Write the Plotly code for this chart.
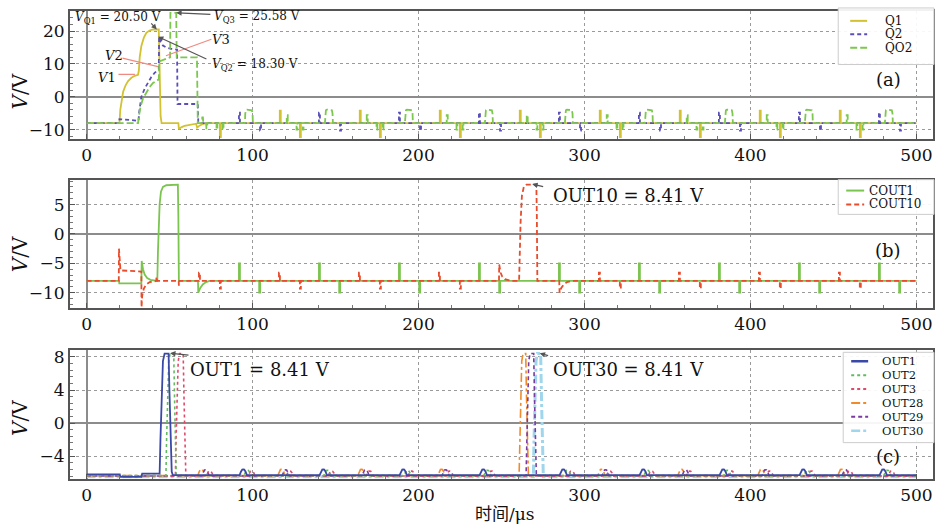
import plotly.graph_objects as go

# ------------------------------------------------------------------
# DATA
# ------------------------------------------------------------------
T_END = 500

# Panel (a): start-up waveforms (time us, voltage V)
Q1_T = [0, 19.8, 20.3, 21.0, 22.0, 23.5, 25.0, 27.0, 29.0, 31.0, 31.5, 32.0, 33.0, 34.5, 36.0, 38.0, 40.0,
        43.5, 44.0, 44.6, 45.2, 55.3, 55.6, 57.0, 59.0, 62.0, 66.0, 66.6, 68.0, 70.0, 72.0]
Q1_V = [-8, -8, -4, -1, 1.5, 3.5, 4.8, 5.8, 6.4, 6.7, 8, 12, 15.5, 18, 19.5, 20.2, 20.5,
        20.5, 10, -6, -8, -8, -9.8, -9.3, -8.9, -8.5, -8.2, -9.4, -8.8, -8.3, -8]
Q2_T = [0, 19.5, 19.8, 25.0, 31.3, 31.6, 32.2, 33.0, 35.0, 37.0, 39.0, 41.0, 43.5, 43.7, 44.5, 46.0,
        48.0, 51.0, 54.5, 54.8, 67.0, 67.3]
Q2_V = [-8, -8, -6.8, -7.0, -7.3, -5, -2, 0, 2.5, 4.5, 6, 7.3, 8.3, 18.3, 16.8, 15.6,
        15.0, 14.6, 14.4, -2.2, -2.2, -8]
QO2_T = [0, 31.0, 31.5, 32.5, 34.0, 36.0, 38.0, 40.0, 43.5, 43.8, 47.0, 50.3, 50.5, 54.0, 54.3, 66.5,
         67.0, 69.5, 69.7, 70.1, 70.3, 72.0, 72.2, 72.6, 72.8]
QO2_V = [-8, -8, -6, -3, -0.5, 1.5, 3, 4.2, 5.3, 10.8, 11.5, 12, 25.58, 25.58, 12, 12,
         -8, -8, -6.3, -6.3, -8, -8, -9.6, -9.6, -8]
A_BASE = -8
Q1_UP_T = [116.4, 164.6, 212.8, 261.0, 309.2, 357.4, 405.6, 453.8]
Q1_UP_V = -4.2
Q1_DN_T = [80.3, 128.5, 176.7, 224.9, 273.1, 321.3, 369.5, 417.7, 465.9]
Q1_DN_V = -12.3
Q2_UP_T = [91.8, 140.0, 188.2, 236.4, 284.6, 332.8, 381.0, 429.2, 477.4]
Q2_UP_V = -4.8
Q2_DN_T = [104.5, 152.7, 200.9, 249.1, 297.3, 345.5, 393.7, 441.9, 490.1]
Q2_DN_V = -10.3
QO2_UP_T = [120.6, 168.8, 217.0, 265.2, 313.4, 361.6, 409.8, 458.0]
QO2_UP_V = -5.6
QO2_DN_T = [78.3, 82.0, 126.5, 130.2, 174.7, 178.4, 222.9, 226.6, 271.1, 274.8,
            319.3, 323.0, 367.5, 371.2, 415.7, 419.4, 463.9, 467.6]
QO2_DN_V = -10.0
QO2_BUMP_T = [95.4, 143.6, 191.8, 240.0, 288.2, 336.4, 384.6, 432.8, 481.0]
QO2_BUMP_W = 4.8
QO2_BUMP_V = -3.9

# Panel (b)
COUT1_T = [0, 19.5, 19.7, 33.0, 33.2, 34.0, 35.0, 36.5, 38.5, 41.0, 42.6, 43.0, 43.5, 44.0, 44.8, 46.0,
           48.0, 55.0, 55.3, 55.6, 67.1, 67.3, 68.5, 70.0, 72.0, 74.0]
COUT1_V = [-8, -8, -8.4, -8.4, -4.6, -6.0, -6.9, -7.5, -7.8, -8, -8, -3, 1.5, 5, 7.2, 8.0,
           8.3, 8.41, 3, -8, -8, -10, -9.2, -8.6, -8.2, -8]
COUT10_T = [0, 19.4, 19.5, 19.8, 20.4, 33.0, 33.1, 33.5, 34.5, 36.0, 38.0, 41.0, 42.0, 42.1, 42.4,
            55.5, 55.6, 55.9,
            248.5, 248.6, 249.5, 250.5, 252.0, 254.0, 256.0, 260.6, 260.9, 261.5, 262.3, 263.5, 265.0,
            271.0, 271.3, 271.6, 284.8, 285.0, 286.0, 287.5, 289.5, 292.0]
COUT10_V = [-8, -8, -2.5, -5, -6.2, -6.4, -12.5, -10.5, -9.3, -8.6, -8.2, -8, -8, -7.3, -8,
            -8, -8.8, -8,
            -8, -5.2, -6.6, -7.3, -7.7, -7.9, -8, -8, -4, 2, 6.5, 8.1, 8.4,
            8.41, 3, -8, -8, -10, -9.2, -8.6, -8.2, -8]
B_BASE = -8
COUT1_UP_T = [91.8, 140.0, 188.2, 236.4, 284.6, 332.8, 381.0, 429.2, 477.4]
COUT1_UP_V = -5.0
COUT1_DN_T = [104.0, 152.2, 200.4, 248.6, 296.8, 345.0, 393.2, 441.4, 489.6]
COUT1_DN_V = -10.0
COUT10_UP_T = [67.7, 115.9, 164.1, 212.3, 308.7, 356.9, 405.1, 453.3]
COUT10_UP_V = -6.6
COUT10_DN_T = [80.3, 128.5, 176.7, 224.9, 321.3, 369.5, 417.7, 465.9]
COUT10_DN_V = -9.3

# Panel (c)
OUT1_T = [0, 20.0, 20.3, 33.0, 33.5, 44.0, 44.5, 45.2, 46.0, 47.0, 49.4, 49.9, 50.6, 51.3, 52.0]
OUT1_V = [-6.2, -6.2, -6.5, -6.5, -6.1, -6.1, -2, 4, 7.5, 8.41, 8.41, 4, -3, -5.9, -6.3]
OUT2_T = [0, 47.8, 48.2, 48.8, 49.5, 50.3, 52.5, 53.0, 53.5, 54.0]
OUT2_V = [-6.35, -6.35, -2, 4, 7.5, 8.41, 8.41, 3, -4, -6.35]
OUT3_T = [0, 53.5, 53.9, 54.5, 55.2, 56.0, 58.2, 58.7, 59.2, 59.8]
OUT3_V = [-6.4, -6.4, -2, 4, 7.5, 8.41, 8.41, 3, -4, -6.4]
OUT28_T = [0, 260.6, 261.0, 261.6, 262.2, 263.0, 264.6, 265.1, 265.6, 266.2]
OUT28_V = [-6.35, -6.35, -2, 4, 7.5, 8.41, 8.41, 3, -4, -6.35]
OUT29_T = [0, 264.8, 265.2, 265.8, 266.4, 267.2, 269.4, 269.9, 270.4, 271.0]
OUT29_V = [-6.4, -6.4, -2, 4, 7.5, 8.41, 8.41, 3, -4, -6.4]
OUT30_T = [0, 269.2, 269.6, 270.2, 270.8, 271.6, 273.6, 274.1, 274.6, 275.2]
OUT30_V = [-6.5, -6.5, -2, 4, 7.5, 8.41, 8.41, 3, -4, -6.5]
HUMP_BLUE_T = [94.4, 142.6, 190.8, 239.0, 287.2, 335.4, 383.6, 431.8, 480.0]      # OUT1, OUT2 +2.5, OUT3 +5
HUMP_ORANGE_T = [69.2, 117.4, 165.6, 213.8, 310.2, 358.4, 406.6, 454.8]          # OUT28, OUT29 +2.5, OUT3 +5
HUMP_PEAK = -5.6

# ------------------------------------------------------------------
# helpers to turn the read values into polylines
# ------------------------------------------------------------------
def spikes(times, peak, base, w=0.6):
    out = []
    for t in times:
        out += [(t, base), (t, peak), (t + w, peak), (t + w, base)]
    return out


def bumps(times, top, base, w):
    out = []
    for t in times:
        out += [(t, base), (t + 0.2, base + 0.7 * (top - base)), (t + 0.6, top - 0.2), (t + 1.2, top),
                (t + w - 1.2, top), (t + w - 0.6, top - 0.2), (t + w - 0.2, base + 0.7 * (top - base)), (t + w, base)]
    return out


def humps(times, peak, base):
    out = []
    for t in times:
        out += [(t - 2.2, base), (t - 1.4, base + 0.6 * (peak - base)), (t - 0.6, peak - 0.02), (t, peak),
                (t + 0.6, peak - 0.02), (t + 1.4, base + 0.6 * (peak - base)), (t + 2.2, base)]
    return out


def build(ts, vs, *extra, base=None):
    pts = list(zip(ts, vs))
    for e in extra:
        pts += e
    pts.sort(key=lambda p: p[0])
    if base is not None and pts[-1][0] < T_END:
        pts.append((T_END, base))
    return [p[0] for p in pts], [p[1] for p in pts]


FONT = "DejaVu Serif"
W, H = 935, 526
ML = 70  # left margin in px


def PX(x):
    return (x - ML) / (W - ML)


def PY(y):
    return 1 - y / H


fig = go.Figure()

# ---------------- panel (a)
x, y = build(Q1_T, Q1_V, spikes(Q1_UP_T, Q1_UP_V, A_BASE), spikes(Q1_DN_T, Q1_DN_V, A_BASE), base=A_BASE)
fig.add_trace(go.Scatter(x=x, y=y, mode="lines", name="Q1", xaxis="x", yaxis="y",
                         line=dict(color="#d2c232", width=1.8)))
x, y = build(Q2_T, Q2_V, spikes(Q2_UP_T, Q2_UP_V, A_BASE), spikes(Q2_DN_T, Q2_DN_V, A_BASE), base=A_BASE)
fig.add_trace(go.Scatter(x=x, y=y, mode="lines", name="Q2", xaxis="x", yaxis="y",
                         line=dict(color="#5a4fb8", width=1.8, dash="4px,3px")))
x, y = build(QO2_T, QO2_V, spikes(QO2_UP_T, QO2_UP_V, A_BASE), spikes(QO2_DN_T, QO2_DN_V, A_BASE, w=0.5),
             bumps(QO2_BUMP_T, QO2_BUMP_V, A_BASE, QO2_BUMP_W), base=A_BASE)
fig.add_trace(go.Scatter(x=x, y=y, mode="lines", name="QO2", xaxis="x", yaxis="y",
                         line=dict(color="#7cc84e", width=1.8, dash="7px,3px")))

# ---------------- panel (b)
x, y = build(COUT1_T, COUT1_V, spikes(COUT1_UP_T, COUT1_UP_V, B_BASE), spikes(COUT1_DN_T, COUT1_DN_V, B_BASE),
             base=B_BASE)
fig.add_trace(go.Scatter(x=x, y=y, mode="lines", name="COUT1", xaxis="x2", yaxis="y2",
                         line=dict(color="#7cc450", width=1.8)))
x, y = build(COUT10_T, COUT10_V, spikes(COUT10_UP_T, COUT10_UP_V, B_BASE),
             spikes(COUT10_DN_T, COUT10_DN_V, B_BASE), base=B_BASE)
fig.add_trace(go.Scatter(x=x, y=y, mode="lines", name="COUT10", xaxis="x2", yaxis="y2",
                         line=dict(color="#e84c2c", width=1.8, dash="5px,3px")))

# ---------------- panel (c)
x, y = build(OUT30_T, OUT30_V, base=-6.5)
fig.add_trace(go.Scatter(x=x, y=y, mode="lines", name="OUT30", xaxis="x3", yaxis="y3",
                         line=dict(color="#9fd6ec", width=3, dash="dashdot")))
x, y = build(OUT28_T, OUT28_V, humps(HUMP_ORANGE_T, HUMP_PEAK, -6.35), base=-6.35)
fig.add_trace(go.Scatter(x=x, y=y, mode="lines", name="OUT28", xaxis="x3", yaxis="y3",
                         line=dict(color="#f08a2a", width=1.6, dash="dashdot")))
x, y = build(OUT29_T, OUT29_V, humps([t + 2.5 for t in HUMP_ORANGE_T], HUMP_PEAK - 0.05, -6.4), base=-6.4)
fig.add_trace(go.Scatter(x=x, y=y, mode="lines", name="OUT29", xaxis="x3", yaxis="y3",
                         line=dict(color="#7a3aa0", width=1.6, dash="4px,3px")))
x, y = build(OUT3_T, OUT3_V, humps([t + 5 for t in HUMP_BLUE_T + HUMP_ORANGE_T], HUMP_PEAK - 0.2, -6.4), base=-6.4)
fig.add_trace(go.Scatter(x=x, y=y, mode="lines", name="OUT3", xaxis="x3", yaxis="y3",
                         line=dict(color="#e2486a", width=1.6, dash="dot")))
x, y = build(OUT2_T, OUT2_V, humps([t + 2.5 for t in HUMP_BLUE_T], HUMP_PEAK - 0.1, -6.35), base=-6.35)
fig.add_trace(go.Scatter(x=x, y=y, mode="lines", name="OUT2", xaxis="x3", yaxis="y3",
                         line=dict(color="#62bb62", width=1.6, dash="dot")))
x, y = build(OUT1_T, OUT1_V, humps(HUMP_BLUE_T, HUMP_PEAK, -6.3), base=-6.3)
fig.add_trace(go.Scatter(x=x, y=y, mode="lines", name="OUT1", xaxis="x3", yaxis="y3",
                         line=dict(color="#3a48a8", width=1.8)))

fig.update_traces(showlegend=False)

# ------------------------------------------------------------------
# axes
# ------------------------------------------------------------------
def xax(anchor):
    return dict(anchor=anchor, domain=[0, 1], range=[-10, 510], tick0=0, dtick=100,
                ticks="inside", ticklen=5, tickcolor="#555", showline=True, linecolor="#555", linewidth=2,
                mirror=True, showgrid=True, gridcolor="#9a9a9a", griddash="dot", gridwidth=1,
                zeroline=True, zerolinecolor="#8c8c8c", zerolinewidth=2,
                tickfont=dict(family=FONT, size=17, color="#111"),
                minor=dict(dtick=20, ticks="inside", ticklen=3, tickcolor="#777", showgrid=False))


def yax(anchor, dom, rng, dt, mdt):
    return dict(anchor=anchor, domain=dom, range=rng, tick0=0, dtick=dt,
                ticks="inside", ticklen=5, tickcolor="#555", showline=True, linecolor="#555", linewidth=2,
                mirror=True, showgrid=True, gridcolor="#9a9a9a", griddash="dot", gridwidth=1,
                zeroline=True, zerolinecolor="#8c8c8c", zerolinewidth=2,
                tickfont=dict(family=FONT, size=17, color="#111"),
                minor=dict(dtick=mdt, ticks="inside", ticklen=3, tickcolor="#777", showgrid=False))


fig.update_layout(
    width=W, height=H, margin=dict(l=ML, r=0, t=0, b=0),
    paper_bgcolor="white", plot_bgcolor="white",
    xaxis=xax("y"), xaxis2=xax("y2"), xaxis3=xax("y3"),
    yaxis=yax("x", [PY(137), PY(8)], [-12.85, 26.15], 10, 2),
    yaxis2=yax("x2", [PY(307.3), PY(178.3)], [-12.6, 9.2], 5, 1),
    yaxis3=yax("x3", [PY(479.3), PY(350)], [-6.72, 8.8], 4, 0.8),
    showlegend=False,
)

ann = []
shapes = []


def ptxt(t, xp, yp, size, xanchor="center", angle=0, family=FONT):
    ann.append(dict(text=t, x=PX(xp), y=PY(yp), xref="paper", yref="paper", showarrow=False,
                    xanchor=xanchor, yanchor="middle", textangle=angle,
                    font=dict(family=family, size=size, color="#111")))


# y-axis titles and x title
for yc in (89, 253, 418):
    ptxt("<i>V</i>/V", 20, yc, 20, angle=-90)
ptxt("时间/μs", 506, 515, 17, family=FONT + ", Noto Sans CJK SC")

# panel labels
for lab, yc in (("(a)", 77), ("(b)", 249), ("(c)", 457)):
    ptxt(lab, 890, yc, 18)


def txt(t, x, y, xr, yr, size, xanchor="center"):
    ann.append(dict(text=t, x=x, y=y, xref=xr, yref=yr, showarrow=False, xanchor=xanchor, yanchor="middle",
                    font=dict(family=FONT, size=size, color="#111")))


def arrow(x, y, ax, ay, xr, yr, color, head):
    ann.append(dict(text="", x=x, y=y, ax=ax, ay=ay, xref=xr, yref=yr, axref=xr, ayref=yr,
                    showarrow=True, arrowhead=head, arrowsize=0.9, arrowwidth=1.2, arrowcolor=color,
                    standoff=0, startstandoff=0))


# panel (a) annotations
txt("<i>V</i><sub>Q1</sub> = 20.50 V", 18.9, 24.0, "x", "y", 12)
txt("<i>V</i><sub>Q3</sub> = 25.58 V", 102.6, 24.3, "x", "y", 12)
txt("<i>V</i><sub>Q2</sub> = 18.30 V", 101.4, 9.8, "x", "y", 12)
txt("<i>V</i>1", 12.2, 5.85, "x", "y", 13)
txt("<i>V</i>2", 16.4, 12.5, "x", "y", 13)
txt("<i>V</i>3", 80.9, 17.4, "x", "y", 13)
SALMON = "#ef8a82"
DARK = "#555555"
arrow(29.1, 6.8, 18.3, 6.8, "x", "y", SALMON, 0)
arrow(43.0, 9.2, 20.7, 11.9, "x", "y", SALMON, 0)
arrow(47.8, 12.5, 76.1, 17.7, "x", "y", SALMON, 0)
arrow(42.3, 20.5, 38.1, 22.8, "x", "y", DARK, 2)
arrow(54.0, 25.58, 75.5, 25.1, "x", "y", DARK, 2)
arrow(43.0, 18.3, 73.1, 11.3, "x", "y", DARK, 2)

# panel (b), (c) annotations
txt("OUT10 = 8.41 V", 326.4, 6.56, "x2", "y2", 18)
arrow(268.5, 8.5, 276.0, 8.0, "x2", "y2", DARK, 2)
txt("OUT1 = 8.41 V", 104.7, 6.5, "x3", "y3", 18)
arrow(50.3, 8.45, 62.3, 8.2, "x3", "y3", DARK, 2)
txt("OUT30 = 8.41 V", 326.7, 6.5, "x3", "y3", 18)
arrow(273.0, 8.45, 279.0, 8.1, "x3", "y3", DARK, 2)


# custom legends (box, line samples, labels)
def legend(box, entries, sx0, sx1, tx, size):
    x0, y0, x1, y1 = box
    shapes.append(dict(type="rect", xref="paper", yref="paper", x0=PX(x0), x1=PX(x1), y0=PY(y1), y1=PY(y0),
                       line=dict(color="#cccccc", width=1), fillcolor="rgba(255,255,255,0.92)", layer="above"))
    for name, yc, color, dash, wd in entries:
        shapes.append(dict(type="line", xref="paper", yref="paper", x0=PX(sx0), x1=PX(sx1), y0=PY(yc), y1=PY(yc),
                           line=dict(color=color, width=wd, dash=dash), layer="above"))
        ptxt(name, tx, yc, size, xanchor="left")


legend((840, 5, 936, 62), [("Q1", 18, "#d2c232", "solid", 2),
                           ("Q2", 31.5, "#5a4fb8", "4px,3px", 2),
                           ("QO2", 45, "#7cc84e", "7px,3px", 2)], 852, 869, 885, 12)
legend((840, 178, 936, 213), [("COUT1", 189, "#7cc450", "solid", 2),
                              ("COUT10", 203, "#e84c2c", "5px,3px", 2)], 848, 866, 869, 12)
legend((845, 352, 936, 443), [("OUT1", 361, "#3a48a8", "solid", 2.5),
                              ("OUT2", 375, "#62bb62", "dot", 2),
                              ("OUT3", 389, "#e2486a", "dot", 2),
                              ("OUT28", 403, "#f08a2a", "dashdot", 2),
                              ("OUT29", 417, "#7a3aa0", "4px,3px", 2),
                              ("OUT30", 431, "#9fd6ec", "dashdot", 2.5)], 853, 870, 882, 11.5)

fig.update_layout(annotations=ann, shapes=shapes)
fig.write_html("out.html")
